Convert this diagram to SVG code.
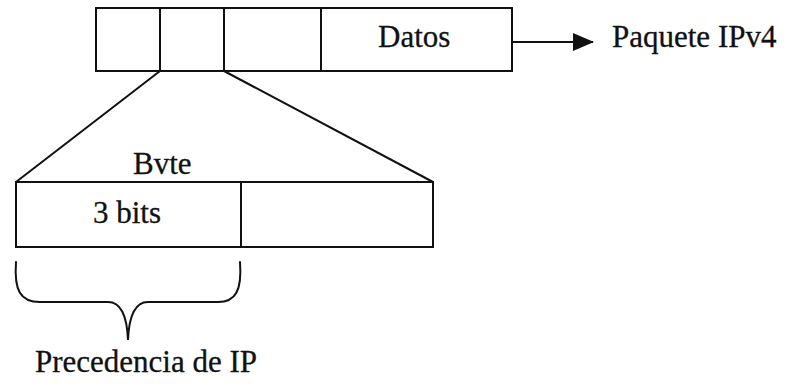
<svg xmlns="http://www.w3.org/2000/svg" width="785" height="386" viewBox="0 0 785 386">
  <style>
    .box { fill: none; stroke: #111; stroke-width: 2; }
    .ln { fill: none; stroke: #111; stroke-width: 2; stroke-linecap: round; }
    .lbl { font-family: "Liberation Serif", "Times New Roman", serif; font-size: 31px; fill: #111; stroke: #111; stroke-width: 0.3; }
  </style>
  <defs>
    <marker id="arrow" markerWidth="21" markerHeight="18" refX="20" refY="9" orient="auto" markerUnits="userSpaceOnUse" viewBox="0 0 21 18">
      <path d="M0,0 L21,9 L0,18 Z" fill="#111"/>
    </marker>
  </defs>
  <rect width="785" height="386" fill="#fff"/>

  <!-- IPv4 packet: three header fields plus data -->
  <g id="packet">
    <rect class="box" x="96" y="8" width="416" height="63"/>
    <line class="ln" x1="160" y1="8" x2="160" y2="71"/>
    <line class="ln" x1="224" y1="8" x2="224" y2="71"/>
    <line class="ln" x1="321" y1="8" x2="321" y2="71"/>
    <text class="lbl" x="378" y="47">Datos</text>
  </g>

  <g id="packet-label">
    <text class="lbl" x="612" y="47">Paquete IPv4</text>
  </g>

  <!-- ToS byte expanded from the second field -->
  <g id="byte">
    <text class="lbl" x="133" y="174">Bvte</text>
    <rect class="box" x="16" y="182" width="417" height="65"/>
    <line class="ln" x1="241" y1="182" x2="241" y2="247"/>
    <text class="lbl" x="93" y="223">3 bits</text>
  </g>

  <g id="precedence">
    <path class="ln" d="M16,262 C14,290 20,302 40,302 L108,302 C120,302 127,315 128,340 C129,315 136,302 148,302 L218,302 C236,302 242,290 240,262"/>
    <text class="lbl" x="35" y="372">Precedencia de IP</text>
  </g>

  <g id="connectors">
    <line class="ln" x1="512" y1="42" x2="593" y2="42" marker-end="url(#arrow)" style="stroke-linecap:butt"/>
    <line class="ln" x1="160" y1="71" x2="16" y2="182"/>
    <line class="ln" x1="224" y1="71" x2="433" y2="182"/>
  </g>
</svg>
